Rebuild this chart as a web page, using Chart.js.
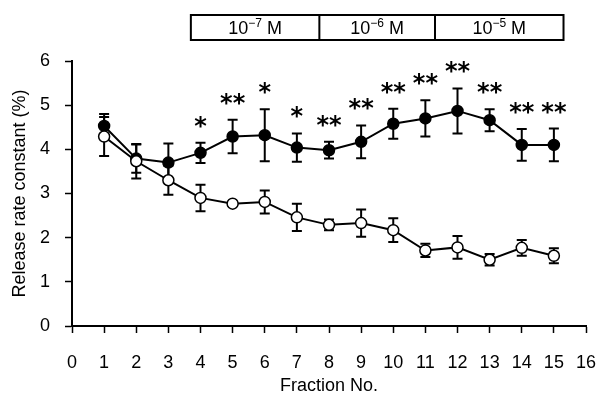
<!DOCTYPE html>
<html>
<head>
<meta charset="utf-8">
<script src="https://cdn.jsdelivr.net/npm/chart.js@4.4.0/dist/chart.umd.min.js"></script>
<style>
  html, body { margin: 0; padding: 0; background: #fff; }
</style>
</head>
<body>
<canvas id="grafico" width="599" height="397"></canvas>
<script>
// datos
const fracciones = [1, 2, 3, 4, 5, 6, 7, 8, 9, 10, 11, 12, 13, 14, 15];
const control = [4.29, 3.73, 3.30, 2.90, 2.77, 2.81, 2.46, 2.29, 2.33, 2.17, 1.71, 1.78, 1.50, 1.77, 1.59];
const controlDE = [0.44, 0.39, 0.33, 0.30, 0.05, 0.26, 0.31, 0.12, 0.31, 0.27, 0.15, 0.26, 0.13, 0.18, 0.17];
const tratado = [4.53, 3.79, 3.70, 3.92, 4.29, 4.32, 4.04, 3.98, 4.17, 4.58, 4.70, 4.87, 4.66, 4.10, 4.10];
const tratadoDE = [0.27, 0.32, 0.43, 0.23, 0.38, 0.59, 0.32, 0.19, 0.37, 0.34, 0.41, 0.51, 0.25, 0.36, 0.37];
const marcas = ["", "", "", "*", "**", "*", "*", "**", "**", "**", "**", "**", "**", "**", "**"];
const limitesConc = [3.7, 7.7, 11.3, 15.3];
const exponentes = ["\u22127", "\u22126", "\u22125"];

const fuente = "'Liberation Sans', Arial, sans-serif";
const puntos = (xs, ys) => xs.map((x, i) => ({ x: x, y: ys[i] }));

const barrasError = {
  id: "barrasError",
  beforeDatasetsDraw(chart) {
    const { ctx, scales: { x, y } } = chart;
    const series = [[control, controlDE], [tratado, tratadoDE]];
    ctx.save();
    ctx.strokeStyle = "#000";
    ctx.lineWidth = 2;
    series.forEach(([vals, de]) => {
      vals.forEach((v, i) => {
        const px = x.getPixelForValue(fracciones[i]);
        const arriba = y.getPixelForValue(v + de[i]);
        const abajo = y.getPixelForValue(v - de[i]);
        ctx.beginPath();
        ctx.moveTo(px, arriba);
        ctx.lineTo(px, abajo);
        ctx.moveTo(px - 5, arriba);
        ctx.lineTo(px + 5, arriba);
        ctx.moveTo(px - 5, abajo);
        ctx.lineTo(px + 5, abajo);
        ctx.stroke();
      });
    });
    ctx.restore();
  }
};

const asteriscos = {
  id: "asteriscos",
  afterDatasetsDraw(chart) {
    const { ctx, scales: { x, y } } = chart;
    ctx.save();
    ctx.fillStyle = "#000";
    ctx.font = "bold 24px 'DejaVu Sans'";
    ctx.textAlign = "center";
    ctx.textBaseline = "alphabetic";
    marcas.forEach((m, i) => {
      if (!m) return;
      const px = x.getPixelForValue(fracciones[i]);
      const py = y.getPixelForValue(tratado[i] + tratadoDE[i]) - 22;
      ctx.fillText(m, px, py + 13);
    });
    ctx.restore();
  }
};

const cajaConc = {
  id: "cajaConc",
  afterDraw(chart) {
    const { ctx, scales: { x } } = chart;
    const arriba = 15, abajo = 40;
    ctx.save();
    ctx.strokeStyle = "#000";
    ctx.lineWidth = 2;
    const x0 = x.getPixelForValue(limitesConc[0]);
    const x1 = x.getPixelForValue(limitesConc[limitesConc.length - 1]);
    ctx.strokeRect(x0, arriba, x1 - x0, abajo - arriba);
    for (let i = 1; i < limitesConc.length - 1; i++) {
      const xd = x.getPixelForValue(limitesConc[i]);
      ctx.beginPath();
      ctx.moveTo(xd, arriba);
      ctx.lineTo(xd, abajo);
      ctx.stroke();
    }
    ctx.fillStyle = "#000";
    ctx.textBaseline = "alphabetic";
    ctx.textAlign = "left";
    exponentes.forEach((e, i) => {
      const a = x.getPixelForValue(limitesConc[i]);
      const b = x.getPixelForValue(limitesConc[i + 1]);
      ctx.font = "18px " + fuente;
      const w1 = ctx.measureText("10").width;
      const w3 = ctx.measureText(" M").width;
      ctx.font = "12px " + fuente;
      const w2 = ctx.measureText(e).width;
      let cx = (a + b) / 2 - (w1 + w2 + w3) / 2;
      const base = 34;
      ctx.font = "18px " + fuente;
      ctx.fillText("10", cx, base);
      cx += w1;
      ctx.font = "12px " + fuente;
      ctx.fillText(e, cx, base - 7);
      cx += w2;
      ctx.font = "18px " + fuente;
      ctx.fillText(" M", cx, base);
    });
    ctx.restore();
  }
};

new Chart(document.getElementById("grafico"), {
  type: "line",
  data: {
    datasets: [
      {
        label: "control",
        data: puntos(fracciones, control),
        borderColor: "#000",
        borderWidth: 2,
        pointRadius: 5.5,
        pointBorderWidth: 1.5,
        pointBackgroundColor: "#fff",
        pointBorderColor: "#000",
        tension: 0
      },
      {
        label: "tratado",
        data: puntos(fracciones, tratado),
        borderColor: "#000",
        borderWidth: 2,
        pointRadius: 5.5,
        pointBorderWidth: 1.5,
        pointBackgroundColor: "#000",
        pointBorderColor: "#000",
        tension: 0
      }
    ]
  },
  options: {
    responsive: false,
    animation: false,
    devicePixelRatio: 1,
    layout: { padding: { top: 61, right: 13, left: 0, bottom: 0 } },
    plugins: { legend: { display: false }, tooltip: { enabled: false } },
    scales: {
      x: {
        type: "linear",
        min: 0,
        max: 16,
        ticks: { stepSize: 1, color: "#000", font: { family: fuente, size: 18 }, padding: 19 },
        grid: { drawOnChartArea: false, tickLength: 7, tickColor: "#000", tickWidth: 1.5 },
        border: { color: "#000", width: 2 },
        title: { display: true, text: "Fraction No.", color: "#000", font: { family: fuente, size: 18 }, padding: { top: 0, bottom: 0 } },
        afterFit: (s) => { s.height = 71; s.paddingLeft = 0; s.paddingRight = 0; }
      },
      y: {
        min: 0,
        max: 6,
        ticks: { stepSize: 1, color: "#000", font: { family: fuente, size: 18 }, padding: 15 },
        grid: { drawOnChartArea: false, tickLength: 7, tickColor: "#000", tickWidth: 1.5 },
        border: { color: "#000", width: 2 },
        title: { display: true, text: "Release rate constant (%)", color: "#000", font: { family: fuente, size: 18 }, padding: { top: 9, bottom: 0 } },
        afterFit: (s) => { s.width = 72; s.paddingTop = 0; s.paddingBottom = 0; }
      }
    }
  },
  plugins: [barrasError, asteriscos, cajaConc]
});
</script>
</body>
</html>
